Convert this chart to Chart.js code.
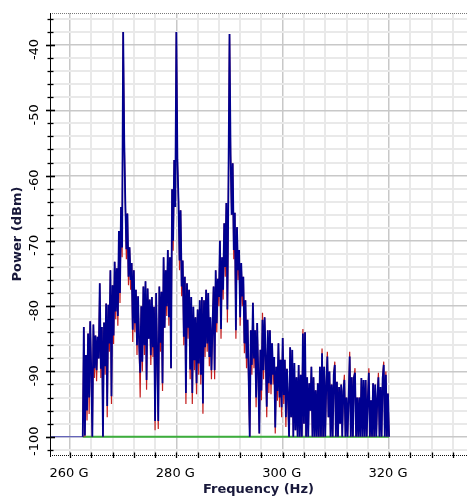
<!DOCTYPE html>
<html>
<head>
<meta charset="utf-8">
<title>Spectrum</title>
<script src="https://cdn.jsdelivr.net/npm/chart.js@4/dist/chart.umd.min.js"></script>
<style>
  html, body { margin: 0; padding: 0; background: #ffffff; }
  canvas { display: block; }
</style>
</head>
<body>
<canvas id="spectrum" width="467" height="497"></canvas>
<script>
// Sweep grid of the analyser trace (GHz)
const freqStartGHz = 262.4;
const freqStepGHz = 0.2;

// Measured power, blue trace (dBm), one value per sweep point
const powerBlue = [
  -100, -83.2, -99.8, -87.5, -96, -84.2, -94, -82.3, -90, -100,
  -82.8, -89.5, -84.5, -89.8, -84.7, -88, -76.5, -89.6, -83.2, -100,
  -82.5, -89.2, -79.6, -95.3, -79.8, -85.7, -74.5, -93.8, -76.8, -84.5,
  -73.2, -80.8, -74.2, -81.5, -68.5, -78, -64.8, -71, -38, -54.5,
  -64, -71.3, -65.8, -75.5, -71, -76, -73.4, -83.6, -74.5, -82.6,
  -77.5, -86, -78.5, -85.8, -90.2, -80, -88.5, -77, -86, -76.2,
  -91.3, -77.3, -85, -79, -87.5, -78.6, -86.3, -80.1, -97.6, -78,
  -87.2, -97.6, -77, -85.6, -77.8, -91.8, -72.5, -83.3, -74.5, -80,
  -71.4, -81.7, -72.5, -89.5, -62.1, -70, -57.6, -64.8, -38, -57.6,
  -63.7, -73, -65.3, -77, -73, -84.7, -75.5, -93.3, -76.5, -83.3,
  -77.5, -89.7, -78.6, -93.3, -80.1, -88.3, -81.7, -91.8, -80.5, -88.8,
  -79.1, -90.5, -78.6, -94.9, -79.1, -86.3, -77.5, -85.7, -78, -87.8,
  -81.7, -89.8, -83.2, -77, -89.8, -74.5, -82.6, -75.8, -78.6, -70,
  -83.5, -72.5, -77.5, -67.3, -74, -64.2, -80.5, -61.1, -38.3, -56.8,
  -66, -58.1, -71.4, -65.7, -83.7, -67.9, -74.5, -71.4, -81.7, -73.4,
  -78.5, -75.5, -85.7, -79.1, -88, -82.1, -90.9, -100, -83.7, -89,
  -79.5, -88, -83.7, -94, -82.6, -90, -99.5, -86.7, -92.9, -82.1,
  -89.8, -81.7, -87.8, -95.4, -83.7, -91.8, -83.7, -92, -85.7, -90.5,
  -87.8, -98.6, -89.3, -93, -85.7, -94, -88.2, -95.5, -84.9, -93.6,
  -88.2, -97, -89.6, -94, -100, -86.3, -97, -86.7, -100, -88.7,
  -99, -90.9, -100, -89, -100, -90.5, -100, -84.2, -98, -84,
  -100, -90.9, -100, -91.8, -96, -89.3, -100, -90.9, -100, -92.9,
  -100, -91.8, -100, -89.3, -100, -87.2, -100, -89.3, -100, -91.8,
  -87.7, -97, -90, -100, -92, -100, -90.5, -89, -100, -91.6,
  -100, -92.4, -98, -92, -100, -93, -91.3, -100, -94, -100,
  -94, -87.7, -100, -90.9, -100, -90.9, -90.2, -100, -94, -100,
  -94, -100, -91, -100, -91.3, -100, -91.3, -100, -94.4, -90.2,
  -100, -94.4, -100, -91.8, -100, -92, -100, -94, -90.9, -100,
  -92.4, -100, -91, -89, -100, -90.5, -100, -93.4, -100
];

// Red trace: same sweep, listed where it differs from the blue one [point, dBm]
const redDiffs = [
  [2, -100], [4, -97.5], [6, -96.5], [8, -91.5], [11, -91], [13, -91.5], [17, -91],
  [21, -90.5], [23, -97], [25, -87], [27, -95], [29, -85.8], [31, -82], [33, -83],
  [35, -79.5], [37, -72.5], [41, -72.8], [43, -76.8], [45, -77.5], [47, -85.5],
  [49, -84], [51, -87.5], [54, -94], [56, -90], [58, -87.5], [60, -92.8], [64, -89],
  [66, -87.8], [68, -99], [70, -89], [71, -98.8], [73, -87], [75, -93], [79, -81.5],
  [81, -83], [85, -71.5], [91, -74.5], [93, -78.5], [95, -86], [97, -95], [99, -85],
  [101, -91.2], [103, -95], [105, -89.8], [107, -93.5], [109, -90.5], [111, -92],
  [113, -96.5], [115, -87.8], [117, -87], [119, -89.2], [121, -91.2], [124, -91.2],
  [126, -84], [128, -80], [130, -85], [132, -79], [134, -75.5], [136, -82.5],
  [142, -72.8], [144, -85], [146, -76], [148, -83], [150, -80], [152, -87.2],
  [154, -89.5], [156, -92.4], [159, -90.5], [161, -89.5], [163, -95.5], [165, -91.5],
  [168, -94.4], [169, -81], [170, -91.2], [173, -97], [175, -93.3], [177, -93.5],
  [179, -92], [181, -99.5], [183, -94.5], [185, -95.5], [187, -97], [189, -95],
  [191, -98.5], [193, -95.5], [199, -90.2], [207, -83.5], [225, -86.5], [230, -87],
  [237, -88.5], [246, -90.5], [251, -87], [256, -89.5], [269, -89.5], [278, -90.2],
  [283, -88.5], [285, -90]
];

// Noise-floor segments (GHz span, dBm)
const floorLevel = -100;
const blueFloorGHz = [256.0, 262.4];
const greenFloorGHz = [262.4, 320.0];

// Axis ranges and tick labels
const xRange = [256.24, 334.66];
const yRange = [-102.8, -35.1];
const xTickValues = [260, 280, 300, 320];
const xTickLabels = ['260 G', '280 G', '300 G', '320 G'];
const yTickValues = [-100, -90, -80, -70, -60, -50, -40];
const yTickLabels = ['-100', '-90', '-80', '-70', '-60', '-50', '-40'];
const xMinorStep = 4;
const yMinorStep = 2;

const sweepX = i => +(freqStartGHz + i * freqStepGHz).toFixed(2);
const bluePoints = powerBlue.map((v, i) => ({ x: sweepX(i), y: v }));
const redValues = powerBlue.slice();
redDiffs.forEach(([i, v]) => { redValues[i] = v; });
const redPoints = redValues.map((v, i) => ({ x: sweepX(i), y: v }));

function gridValues(lo, hi, step) {
  const out = [];
  for (let v = Math.ceil(lo / step) * step; v <= hi + 1e-9; v += step) out.push(+v.toFixed(4));
  return out;
}
const xGrid = gridValues(xRange[0], xRange[1], xMinorStep);
const yGrid = gridValues(yRange[0], yRange[1], yMinorStep);

const FONT = '"DejaVu Sans", Verdana, sans-serif';

// Axis lines, tick marks, labels and titles drawn on top of the plot
const axisFrame = {
  id: 'axisFrame',
  afterDraw(chart) {
    const { ctx, chartArea: a, scales: { x, y } } = chart;
    ctx.save();

    // dotted top border
    ctx.strokeStyle = '#7a7a7a';
    ctx.lineWidth = 1;
    ctx.setLineDash([1, 1]);
    ctx.beginPath();
    ctx.moveTo(a.left, a.top + 0.5);
    ctx.lineTo(a.right, a.top + 0.5);
    ctx.stroke();

    // dotted bottom axis
    ctx.strokeStyle = '#111111';
    ctx.beginPath();
    ctx.moveTo(a.left, a.bottom + 0.5);
    ctx.lineTo(a.right, a.bottom + 0.5);
    ctx.stroke();
    ctx.setLineDash([]);

    // solid left axis
    ctx.strokeStyle = '#000000';
    ctx.beginPath();
    ctx.moveTo(a.left + 0.5, a.top);
    ctx.lineTo(a.left + 0.5, a.bottom + 2);
    ctx.stroke();

    // y tick marks crossing the axis
    yGrid.forEach(v => {
      const py = Math.round(y.getPixelForValue(v)) + 0.5;
      const major = v % 10 === 0;
      ctx.lineWidth = major ? 1.6 : 1.3;
      ctx.beginPath();
      ctx.moveTo(a.left - (major ? 4 : 2.5), py);
      ctx.lineTo(a.left + (major ? 5 : 3.5), py);
      ctx.stroke();
    });

    // x tick marks crossing the axis
    ctx.lineWidth = 1.3;
    xGrid.forEach(v => {
      const px = Math.round(x.getPixelForValue(v)) + 0.5;
      ctx.beginPath();
      ctx.moveTo(px, a.bottom - 2.5);
      ctx.lineTo(px, a.bottom + 3);
      ctx.stroke();
    });

    // tick labels
    ctx.fillStyle = '#000000';
    ctx.font = '13px ' + FONT;
    ctx.textAlign = 'center';
    ctx.textBaseline = 'middle';
    yTickValues.forEach((v, i) => {
      const py = y.getPixelForValue(v);
      ctx.save();
      ctx.translate(a.left - 15, py + 4.5);
      ctx.rotate(-Math.PI / 2);
      ctx.fillText(yTickLabels[i], 0, 0);
      ctx.restore();
    });
    xTickValues.forEach((v, i) => {
      const px = x.getPixelForValue(v);
      ctx.fillText(xTickLabels[i], px - 1, a.bottom + 18.5);
    });

    // axis titles
    ctx.fillStyle = '#18183a';
    ctx.font = 'bold 13px ' + FONT;
    ctx.fillText('Frequency (Hz)', (a.left + a.right) / 2, a.bottom + 35);
    ctx.save();
    ctx.translate(18, (a.top + a.bottom) / 2);
    ctx.rotate(-Math.PI / 2);
    ctx.fillText('Power (dBm)', 0, 0);
    ctx.restore();

    ctx.restore();
  }
};

const gridColor = majorStep => ctx =>
  (ctx.tick && Math.abs(ctx.tick.value % majorStep) < 1e-6) ? '#c8c8c8' : '#e9e9e9';
const gridWidth = majorStep => ctx =>
  (ctx.tick && Math.abs(ctx.tick.value % majorStep) < 1e-6) ? 1.5 : 2;

new Chart(document.getElementById('spectrum'), {
  type: 'line',
  data: {
    datasets: [
      {
        label: 'Trace 1',
        data: bluePoints,
        borderColor: '#000090',
        borderWidth: 1.8,
        order: 1
      },
      {
        label: 'Trace 2',
        data: redPoints,
        borderColor: '#c41e1e',
        borderWidth: 1.2,
        order: 2
      },
      {
        label: 'Floor',
        data: greenFloorGHz.map(f => ({ x: f, y: floorLevel })),
        borderColor: '#3cae3c',
        borderWidth: 2,
        order: 3
      },
      {
        label: 'Floor (start)',
        data: blueFloorGHz.map(f => ({ x: f, y: floorLevel })),
        borderColor: '#4848b4',
        borderWidth: 1,
        order: 4
      }
    ]
  },
  options: {
    responsive: false,
    devicePixelRatio: 1,
    animation: false,
    events: [],
    layout: { padding: { left: 50, top: 13, right: 0, bottom: 42 } },
    elements: {
      point: { radius: 0 },
      line: { tension: 0, borderJoinStyle: 'bevel', fill: false }
    },
    plugins: { legend: { display: false }, tooltip: { enabled: false } },
    scales: {
      x: {
        type: 'linear',
        min: xRange[0],
        max: xRange[1],
        afterBuildTicks: s => { s.ticks = xGrid.map(v => ({ value: v })); },
        afterFit: s => { s.height = 0; },
        ticks: { display: false },
        border: { display: false },
        grid: { drawTicks: false, color: gridColor(20), lineWidth: gridWidth(20) }
      },
      y: {
        type: 'linear',
        min: yRange[0],
        max: yRange[1],
        afterBuildTicks: s => { s.ticks = yGrid.map(v => ({ value: v })); },
        afterFit: s => { s.width = 0; },
        ticks: { display: false },
        border: { display: false },
        grid: { drawTicks: false, color: gridColor(10), lineWidth: gridWidth(10) }
      }
    }
  },
  plugins: [axisFrame]
});
</script>
</body>
</html>
